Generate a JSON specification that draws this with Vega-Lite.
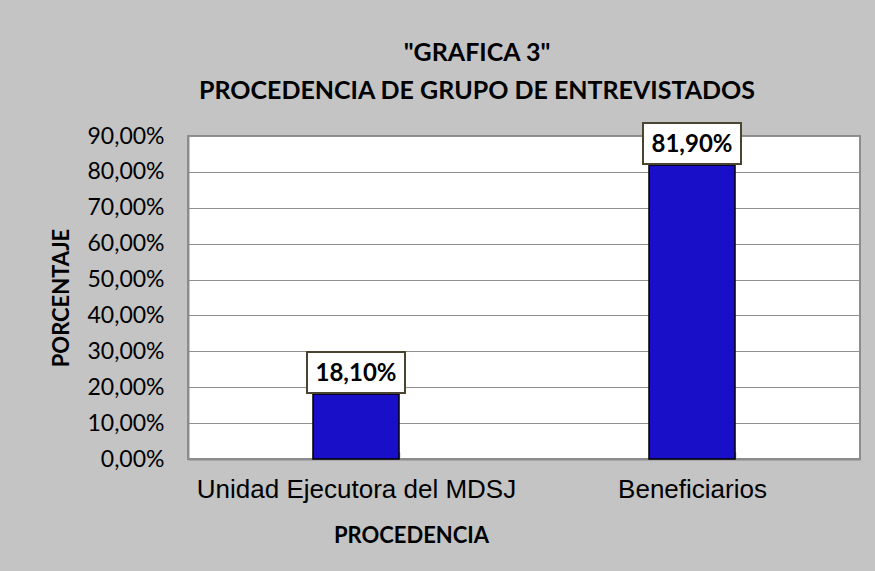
{
  "$schema": "https://vega.github.io/schema/vega-lite/v6.json",
  "autosize": {"type": "none"},
  "padding": {"left": 188, "top": 136, "right": 15, "bottom": 112},
  "width": 672,
  "height": 323,
  "background": "#c4c4c4",
  "config": {
    "locale": {"number": {"decimal": ",", "thousands": ".", "grouping": [3], "currency": ["", " €"]}},
    "view": {"fill": "white", "stroke": "#8c8c8c", "strokeWidth": 2},
    "font": "Lato"
  },
  "title": {
    "text": ["\"GRAFICA 3\"", "PROCEDENCIA DE GRUPO DE ENTREVISTADOS"],
    "font": "Lato",
    "fontSize": 25,
    "fontWeight": "bold",
    "color": "black",
    "lineHeight": 38,
    "anchor": "middle",
    "frame": "group",
    "dx": -47,
    "offset": 15
  },
  "data": {
    "values": [
      {"procedencia": "Unidad Ejecutora del MDSJ", "porcentaje": 0.181},
      {"procedencia": "Beneficiarios", "porcentaje": 0.819}
    ]
  },
  "encoding": {
    "x": {
      "field": "procedencia",
      "type": "nominal",
      "sort": null,
      "scale": {"paddingInner": 0.744, "paddingOuter": 0.372},
      "axis": {
        "title": "PROCEDENCIA",
        "titleFont": "Lato",
        "titleFontSize": 22,
        "titleFontWeight": "bold",
        "titleColor": "black",
        "titleX": 223,
        "titleY": 76,
        "titleBaseline": "middle",
        "titleAnchor": null,
        "labelAngle": 0,
        "labelLimit": 0,
        "labelFont": "Liberation Sans",
        "labelFontSize": 26,
        "labelColor": "black",
        "labelPadding": 24,
        "tickBand": "extent",
        "tickSize": -7,
        "tickColor": "#8c8c8c",
        "tickWidth": 1.5,
        "domainColor": "#8c8c8c",
        "domainWidth": 2,
        "grid": false
      }
    },
    "y": {
      "field": "porcentaje",
      "type": "quantitative",
      "scale": {"domain": [0, 0.9], "nice": false},
      "axis": {
        "title": "PORCENTAJE",
        "titleFont": "Lato",
        "titleFontSize": 22,
        "titleFontWeight": "bold",
        "titleColor": "black",
        "titleX": -127,
        "titleY": 161.5,
        "titleBaseline": "middle",
        "titleAngle": -90,
        "titleAnchor": null,
        "values": [0, 0.1, 0.2, 0.3, 0.4, 0.5, 0.6, 0.7, 0.8, 0.9],
        "format": ".2%",
        "labelFont": "Lato",
        "labelFontSize": 23,
        "labelColor": "black",
        "labelPadding": 24,
        "ticks": false,
        "domainColor": "#8c8c8c",
        "domainWidth": 2,
        "grid": true,
        "gridColor": "#8f8f8f",
        "gridWidth": 1.2
      }
    }
  },
  "layer": [
    {
      "mark": {"type": "bar", "fill": "#1a0fc8", "stroke": "black", "strokeWidth": 1.5}
    },
    {
      "mark": {
        "type": "point",
        "shape": "M-1,-0.418L1,-0.418L1,0.418L-1,0.418Z",
        "size": 9604,
        "fill": "white",
        "stroke": "#4a4530",
        "strokeWidth": 2,
        "opacity": 1,
        "yOffset": -21.5
      }
    },
    {
      "mark": {
        "type": "text",
        "font": "Lato",
        "fontSize": 24,
        "fontWeight": "bold",
        "color": "black",
        "baseline": "middle",
        "align": "center",
        "yOffset": -20.5
      },
      "encoding": {"text": {"field": "porcentaje", "type": "quantitative", "format": ".2%"}}
    }
  ]
}
